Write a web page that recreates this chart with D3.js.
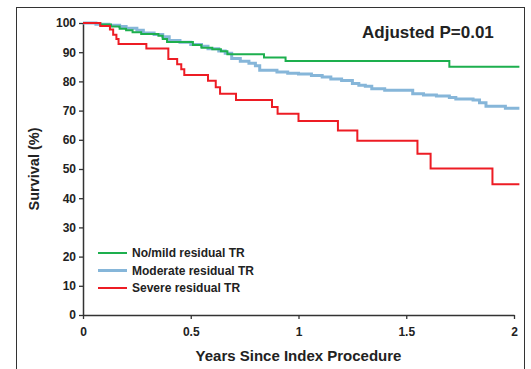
<!DOCTYPE html>
<html>
<head>
<meta charset="utf-8">
<script src="https://cdn.jsdelivr.net/npm/d3@7"></script>
<style>
  body { margin: 0; background: #fff; }
  svg text { font-family: "Liberation Sans", Arial, sans-serif; font-weight: bold; fill: #222; }
</style>
</head>
<body>
<div id="app"></div>
<script>
const seriesNames = ["No/mild residual TR", "Moderate residual TR", "Severe residual TR"];
const seriesColors = ["#1daf4e", "#86b6d9", "#ed1c24"];

// [years, survival %] steps
const noMild = [
  [0, 100], [0.08, 99.5], [0.13, 98.8], [0.17, 98], [0.2, 97.5], [0.23, 96.8],
  [0.27, 96.2], [0.35, 95.6], [0.37, 94.5], [0.39, 93.5], [0.51, 92.5], [0.55, 91.5],
  [0.6, 91], [0.64, 90.3], [0.67, 89.3], [0.84, 88.2], [0.94, 87], [1.7, 85], [2.025, 85]
];
const moderate = [
  [0, 100], [0.06, 99.6], [0.12, 99.2], [0.17, 98.8], [0.2, 98.2], [0.25, 97.5],
  [0.28, 96.6], [0.33, 96.1], [0.37, 95.3], [0.4, 94], [0.45, 93.4], [0.5, 92.6],
  [0.55, 92], [0.58, 91.2], [0.63, 90.4], [0.66, 89.6], [0.69, 87.8], [0.73, 86.9],
  [0.77, 86.2], [0.8, 85.4], [0.82, 83.8], [0.9, 83.2], [0.95, 82.8], [1.0, 82.5],
  [1.06, 82], [1.11, 81.5], [1.15, 80.8], [1.2, 80.3], [1.25, 79.3], [1.28, 78.7],
  [1.31, 78.3], [1.34, 77.5], [1.4, 77], [1.53, 75.8], [1.58, 75.3], [1.64, 75],
  [1.7, 74.5], [1.73, 74], [1.81, 73.6], [1.84, 72.7], [1.87, 71.5], [1.96, 70.8], [2.025, 70.8]
];
const severe = [
  [0, 100], [0.08, 99], [0.125, 97.8], [0.14, 96], [0.155, 94.5], [0.165, 92.8],
  [0.294, 91.3], [0.396, 87.7], [0.437, 85.9], [0.456, 84.2], [0.47, 82.2],
  [0.58, 80.2], [0.616, 78], [0.636, 75.8], [0.71, 73.6], [0.877, 71.2], [0.903, 68.9],
  [1.0, 66.4], [1.183, 63.2], [1.273, 59.7], [1.552, 55.2], [1.613, 50.2],
  [1.9, 44.8], [2.025, 44.8]
];
const seriesData = [noMild, moderate, severe];
const seriesWidths = [2, 3, 2];

const xTicks = [0, 0.5, 1, 1.5, 2];
const yTicks = [0, 10, 20, 30, 40, 50, 60, 70, 80, 90, 100];

const width = 531, height = 369;
const svg = d3.select("#app").append("svg").attr("width", width).attr("height", height);

// outer frame
svg.append("rect")
  .attr("x", 16.5).attr("y", 7.5)
  .attr("width", 508).attr("height", 380)
  .attr("fill", "none").attr("stroke", "#333").attr("stroke-width", 1);

const x = d3.scaleLinear().domain([0, 2]).range([83, 514]);
const y = d3.scaleLinear().domain([0, 100]).range([315, 23]);

const xAxis = svg.append("g")
  .attr("transform", "translate(0,315)")
  .call(d3.axisBottom(x).tickValues(xTicks).tickFormat(d3.format("")).tickSize(4).tickSizeOuter(0));
xAxis.selectAll("text").attr("font-size", 12).attr("dy", "1.2em").style("fill", "#222");

const yAxis = svg.append("g")
  .attr("transform", "translate(83,0)")
  .call(d3.axisLeft(y).tickValues(yTicks).tickSize(4).tickSizeOuter(0));
yAxis.selectAll("text").attr("font-size", 12).attr("x", -7).style("fill", "#222");

[xAxis, yAxis].forEach(g => {
  g.select(".domain").attr("stroke", "#333").attr("stroke-width", 1.5);
  g.selectAll(".tick line").attr("stroke", "#333").attr("stroke-width", 1.3);
});

const line = d3.line()
  .x(d => x(d[0]))
  .y(d => y(d[1]))
  .curve(d3.curveStepAfter);

// draw moderate first so green and red sit on top
[1, 0, 2].forEach(i => {
  svg.append("path")
    .datum(seriesData[i])
    .attr("d", line)
    .attr("fill", "none")
    .attr("stroke", seriesColors[i])
    .attr("stroke-width", seriesWidths[i]);
});

// legend
const legend = svg.append("g").attr("transform", "translate(98,253)");
seriesNames.forEach((name, i) => {
  const g = legend.append("g").attr("transform", `translate(0,${i * 17.5})`);
  g.append("line")
    .attr("x1", 0).attr("x2", 29)
    .attr("stroke", seriesColors[i])
    .attr("stroke-width", seriesWidths[i]);
  g.append("text")
    .attr("x", 34).attr("dy", "0.35em")
    .attr("font-size", 12)
    .text(name);
});

svg.append("text")
  .attr("x", 362).attr("y", 38)
  .attr("font-size", 17)
  .text("Adjusted P=0.01");

svg.append("text")
  .attr("x", x(1)).attr("y", 361)
  .attr("text-anchor", "middle")
  .attr("font-size", 15)
  .text("Years Since Index Procedure");

svg.append("text")
  .attr("transform", `translate(39,${y(50)}) rotate(-90)`)
  .attr("text-anchor", "middle")
  .attr("font-size", 14.5)
  .text("Survival (%)");
</script>
</body>
</html>
